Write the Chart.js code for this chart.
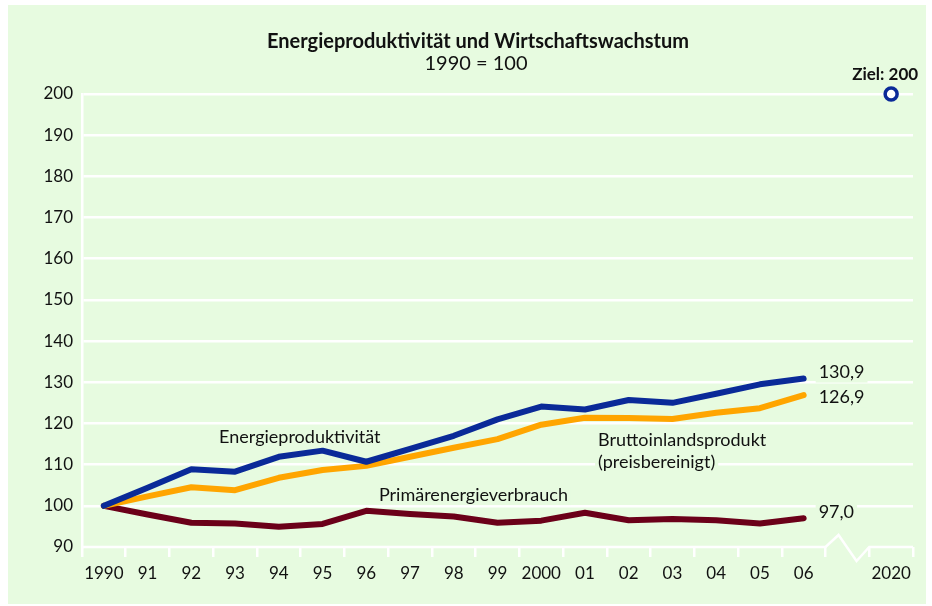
<!DOCTYPE html>
<html><head><meta charset="utf-8">
<script src="https://cdn.jsdelivr.net/npm/chart.js@4/dist/chart.umd.min.js"></script>
<style>html,body{margin:0;padding:0;background:#fff;}#wrap{width:932px;height:606px;position:relative;}canvas{display:block;}</style>
</head><body><div id="wrap"><canvas id="c" width="932" height="606" style="width:932px;height:606px"></canvas></div>
<script>
const years = ['1990','91','92','93','94','95','96','97','98','99','2000','01','02','03','04','05','06','','2020'];
const energieproduktivitaet = [100,104.4,108.9,108.3,111.9,113.4,110.7,113.8,117.0,121.0,124.1,123.4,125.7,125.0,127.2,129.5,130.9];
const bruttoinlandsprodukt = [100,102.3,104.5,103.8,106.8,108.7,109.7,111.9,114.1,116.2,119.7,121.4,121.3,121.1,122.6,123.7,126.9];
const primaerenergieverbrauch = [100,97.9,95.9,95.7,94.9,95.6,98.8,98.0,97.4,95.9,96.4,98.3,96.5,96.8,96.5,95.7,97.0];
const zielIndex = 18;
const zielWert = 200;
const yTicks = [90,100,110,120,130,140,150,160,170,180,190,200];

const BLUE = '#0a2a98', ORANGE = '#ffa500', MAROON = '#6b0019', BG = '#e7fbe0';
const FONT = 'Lato, "Open Sans", sans-serif';

const zielData = years.map((_, i) => i === zielIndex ? zielWert : null);
const fmt = v => v.toFixed(1).replace('.', ',');

const deco = {
  id: 'deco',
  beforeDraw(chart) {
    const c = chart.ctx;
    c.save();
    c.fillStyle = '#ffffff';
    c.fillRect(0, 0, chart.width, chart.height);
    c.fillStyle = BG;
    c.fillRect(8, 5, chart.width - 14, chart.height - 7);
    c.fillStyle = '#111';
    c.textAlign = 'center';
    c.textBaseline = 'middle';
    c.font = 'bold 20px ' + FONT;
    c.fillText('Energieproduktivität und Wirtschaftswachstum', 478, 42);
    c.font = '20px ' + FONT;
    c.fillText('1990 = 100', 476, 64);
    c.restore();
  },
  beforeDatasetsDraw(chart) {
    const c = chart.ctx, x = chart.scales.x, y = chart.scales.y;
    const ay = y.getPixelForValue(90);
    const half = (x.getPixelForValue(1) - x.getPixelForValue(0)) / 2;
    const b1 = x.getPixelForValue(16) + half;
    const b2 = x.getPixelForValue(17) + half;
    c.save();
    c.strokeStyle = '#ffffff';
    c.lineWidth = 2.5;
    c.lineJoin = 'miter';
    c.beginPath();
    c.moveTo(chart.chartArea.left, ay);
    c.lineTo(b1, ay);
    c.lineTo(b1 + 13, ay - 12);
    c.lineTo(b1 + 31, ay + 14);
    c.lineTo(b2, ay);
    c.lineTo(chart.chartArea.right, ay);
    c.stroke();
    c.restore();
  },
  afterDatasetsDraw(chart) {
    const c = chart.ctx, x = chart.scales.x, y = chart.scales.y;
    c.save();
    c.font = '18px ' + FONT;
    c.textBaseline = 'middle';
    const label = (txt, px, py, align) => {
      c.textAlign = align;
      const w = c.measureText(txt).width;
      const lx = align === 'left' ? px : align === 'center' ? px - w / 2 : px - w;
      c.fillStyle = BG;
      c.fillRect(lx - 3, py - 9, w + 6, 19);
      c.fillStyle = '#111';
      c.fillText(txt, px, py);
    };
    const last = energieproduktivitaet.length - 1;
    const ex = x.getPixelForValue(last) + 15;
    label(fmt(energieproduktivitaet[last]), ex, y.getPixelForValue(energieproduktivitaet[last]) - 6, 'left');
    label(fmt(bruttoinlandsprodukt[last]), ex, y.getPixelForValue(bruttoinlandsprodukt[last]) + 2, 'left');
    label(fmt(primaerenergieverbrauch[last]), ex, y.getPixelForValue(primaerenergieverbrauch[last]) - 6, 'left');
    label('Energieproduktivität', x.getPixelForValue(4.48), y.getPixelForValue(116.7), 'center');
    label('Primärenergieverbrauch', x.getPixelForValue(8.45), y.getPixelForValue(102.6), 'center');
    label('Bruttoinlandsprodukt', x.getPixelForValue(11.3), y.getPixelForValue(116.0), 'left');
    label('(preisbereinigt)', x.getPixelForValue(11.3), y.getPixelForValue(110.6), 'left');
    c.font = 'bold 17px ' + FONT;
    c.fillStyle = '#111';
    c.textAlign = 'center';
    c.fillText('Ziel: ' + zielWert, x.getPixelForValue(zielIndex) - 6, y.getPixelForValue(zielWert) - 19);
    c.restore();
  }
};

new Chart(document.getElementById('c'), {
  type: 'line',
  data: {
    labels: years,
    datasets: [
      { label: 'Energieproduktivität', data: energieproduktivitaet, borderColor: BLUE, clip: false },
      { label: 'Bruttoinlandsprodukt (preisbereinigt)', data: bruttoinlandsprodukt, borderColor: ORANGE, clip: false },
      { label: 'Primärenergieverbrauch', data: primaerenergieverbrauch, borderColor: MAROON, clip: false },
      { label: 'Ziel', data: zielData, showLine: false, pointRadius: 6, pointBorderWidth: 3.5, clip: false,
        pointBorderColor: BLUE, pointBackgroundColor: '#ffffff', borderColor: BLUE }
    ]
  },
  options: {
    responsive: false,
    animation: false,
    devicePixelRatio: 1,
    layout: { padding: { left: 0, right: 19, top: 94, bottom: 0 } },
    elements: {
      line: { borderWidth: 6, tension: 0, borderJoinStyle: 'round', borderCapStyle: 'round', fill: false },
      point: { radius: 0, hoverRadius: 0 }
    },
    plugins: { legend: { display: false }, tooltip: { enabled: false }, title: { display: false } },
    scales: {
      x: {
        type: 'category',
        offset: true,
        grid: { display: true, drawOnChartArea: false, drawTicks: true, tickLength: 10, color: '#ffffff', lineWidth: 2.5, offset: true },
        border: { display: false },
        ticks: { color: '#111', font: { family: FONT, size: 17 }, padding: 6, maxRotation: 0, autoSkip: false },
        afterFit(s) { s.height = 59; }
      },
      y: {
        min: 90, max: 200,
        afterBuildTicks(s) { s.ticks = yTicks.map(v => ({ value: v })); },
        grid: { color: ctx => (ctx.tick && ctx.tick.value === 90) ? 'rgba(0,0,0,0)' : '#ffffff', lineWidth: 2.5, drawTicks: false },
        border: { display: true, color: '#ffffff', width: 2.5 },
        ticks: { color: '#111', font: { family: FONT, size: 17 }, padding: 9 },
        afterFit(s) { s.width = 82; }
      }
    }
  },
  plugins: [deco]
});
</script>
</body></html>
